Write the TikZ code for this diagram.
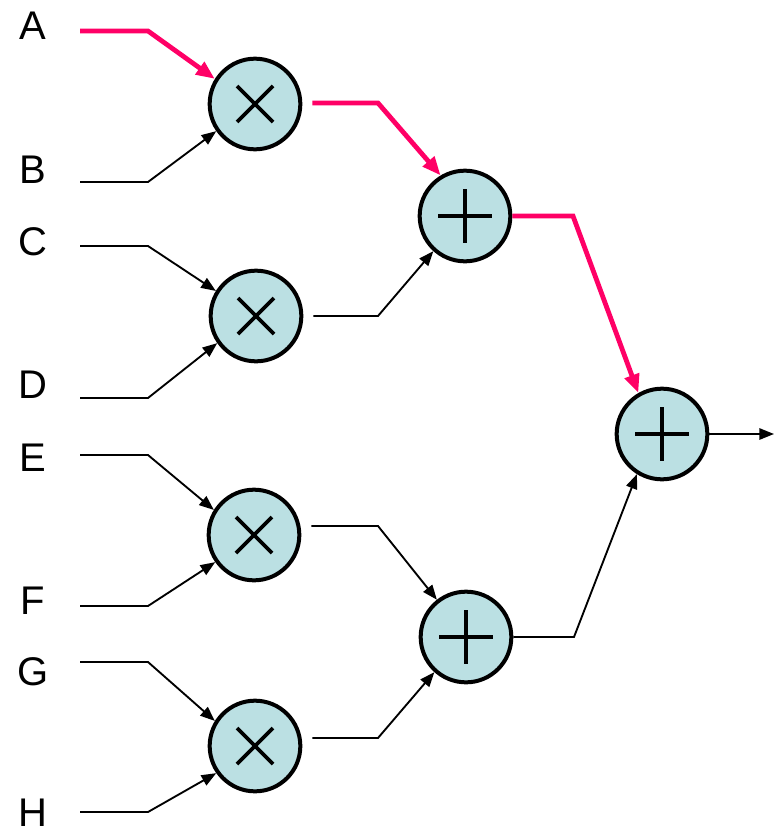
\documentclass[tikz,border=0pt]{standalone}
\usepackage{fontspec}
\setmainfont{Liberation Sans}
\usetikzlibrary{arrows.meta}
\definecolor{opfill}{RGB}{187,224,227}
\definecolor{critical}{RGB}{255,0,102}
\begin{document}
\begin{tikzpicture}[x=0.75pt,y=-0.75pt,
  op/.style={circle,draw=black,line width=3pt,fill=opfill,minimum size=68pt,inner sep=0pt},
  sym/.style={line width=2.8pt},
  wire/.style={line width=1.4pt,-{Triangle[length=11pt,width=8.5pt]}},
  hot/.style={line width=3.6pt,draw=critical,-{Triangle[length=14pt,width=11pt]}},
  lbl/.style={anchor=base,font=\fontsize{30pt}{30pt}\selectfont}]
\useasboundingbox (0,0) rectangle (774,835);

% operator nodes
\node[op] (m1) at (255,104) {};
\node[op] (m2) at (256,316) {};
\node[op] (m3) at (254,535) {};
\node[op] (m4) at (255,746) {};
\node[op] (a1) at (465,216) {};
\node[op] (a2) at (466,637) {};
\node[op] (a3) at (662,434) {};

% operator symbols
\foreach \n in {m1,m2,m3,m4}{
  \draw[sym] ([shift={(-18,-18)}]\n.center) -- ([shift={(18,18)}]\n.center);
  \draw[sym] ([shift={(-18,18)}]\n.center) -- ([shift={(18,-18)}]\n.center);
}
\foreach \n in {a1,a2,a3}{
  \draw[sym] ([shift={(-27,0)}]\n.center) -- ([shift={(27,0)}]\n.center);
  \draw[sym] ([shift={(0,-27)}]\n.center) -- ([shift={(0,27)}]\n.center);
}

% input labels
\node[lbl] (la) at (33,39) {A};
\node[lbl] (lb) at (33,183) {B};
\node[lbl] (lc) at (33,255) {C};
\node[lbl] (ld) at (33,398) {D};
\node[lbl] (le) at (33,471) {E};
\node[lbl] (lf) at (33,614) {F};
\node[lbl] (lg) at (33,685) {G};
\node[lbl] (lh) at (33,826) {H};

% wire start points and bends
\coordinate (sa) at (80,31);  \coordinate (ba) at (148,31);
\coordinate (sb) at (80,182); \coordinate (bb) at (148,182);
\coordinate (sc) at (80,246); \coordinate (bc) at (148,246);
\coordinate (sd) at (80,398); \coordinate (bd) at (148,398);
\coordinate (se) at (80,455); \coordinate (be) at (148,455);
\coordinate (sf) at (80,606); \coordinate (bf) at (148,606);
\coordinate (sg) at (80,662); \coordinate (bg) at (148,662);
\coordinate (sh) at (80,812); \coordinate (bh) at (148,812);

\coordinate (b1) at (378,103);
\coordinate (b2) at (378,316);
\coordinate (b3) at (378,526);
\coordinate (b4) at (378,738);
\coordinate (b5) at (573,216);
\coordinate (b6) at (574,637);
\coordinate (out) at (774,434);

% inputs to multipliers
\draw[hot] (sa) -- (ba) -- (m1.148);
\draw[wire] (sb) -- (bb) -- (m1.215);
\draw[wire] (sc) -- (bc) -- (m2.148);
\draw[wire] (sd) -- (bd) -- (m2.215);
\draw[wire] (se) -- (be) -- (m3.148);
\draw[wire] (sf) -- (bf) -- (m3.215);
\draw[wire] (sg) -- (bg) -- (m4.148);
\draw[wire] (sh) -- (bh) -- (m4.215);

% multipliers to adders
\coordinate (o1) at ([shift={(10,-1)}]m1.east);
\coordinate (o2) at ([shift={(10,0)}]m2.east);
\coordinate (o3) at ([shift={(10,-9)}]m3.east);
\coordinate (o4) at ([shift={(10,-8)}]m4.east);
\draw[hot] (o1) -- (b1) -- (a1.121);
\draw[wire] (o2) -- (b2) -- (a1.228);
\draw[wire] (o3) -- (b3) -- (a2.128);
\draw[wire] (o4) -- (b4) -- (a2.228);

% adders to final adder
\draw[hot] (a1.east) -- (b5) -- (a3.120);
\draw[wire] (a2.east) -- (b6) -- (a3.238);
\draw[wire] (a3.east) -- (out);
\end{tikzpicture}
\end{document}
